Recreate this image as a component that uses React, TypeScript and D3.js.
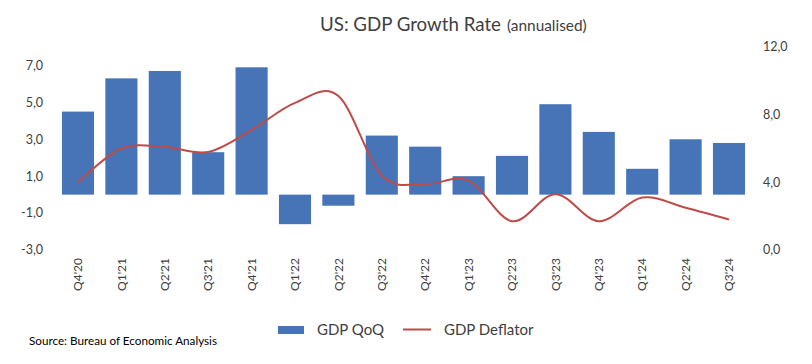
import React from 'react';
import * as d3 from 'd3';

const quarters = ["Q4'20", "Q1'21", "Q2'21", "Q3'21", "Q4'21", "Q1'22", "Q2'22", "Q3'22",
  "Q4'22", "Q1'23", "Q2'23", "Q3'23", "Q4'23", "Q1'24", "Q2'24", "Q3'24"];
const gdpQoQ = [4.5, 6.3, 6.7, 2.3, 6.9, -1.6, -0.6, 3.2, 2.6, 1.0, 2.1, 4.9, 3.4, 1.4, 3.0, 2.8];
const gdpDeflator = [4.0, 6.0, 6.1, 5.8, 7.1, 8.7, 9.1, 4.4, 3.9, 4.1, 1.7, 3.3, 1.7, 3.1, 2.5, 1.8];
const leftTicks = [-3, -1, 1, 3, 5, 7];
const rightTicks = [0, 4, 8, 12];

const W = 812;
const H = 364;
const FONT = 'Lato, "Open Sans", sans-serif';
const TEXT = '#404040';
const BAR = '#4674b7';
const LINE = '#be4b48';

const fmt = (v: number) => v.toFixed(1).replace('.', ',');

export default function App() {
  const x = d3.scaleBand<string>().domain(quarters).range([56.3, 750.7])
    .paddingInner(0.26).paddingOuter(0.13);
  const yL = d3.scaleLinear().domain([-3, 8]).range([250, 47]);
  const yR = d3.scaleLinear().domain([0, 12]).range([250, 47]);

  const line = d3.line<number>()
    .x((_, i) => x(quarters[i])! + x.bandwidth() / 2)
    .y(d => yR(d))
    .curve(d3.curveCardinal.tension(0));

  return (
    <svg width={W} height={H} style={{position: 'absolute', left: 0, top: 0, background: '#fff'}} fontFamily={FONT}>
      <text x={320} y={31} fontSize={18.7} fill={TEXT}>US: GDP Growth Rate</text>
      <text x={507} y={31} fontSize={15.4} fill={TEXT}>(annualised)</text>

      {/* bars */}
      {gdpQoQ.map((v, i) => (
        <rect key={quarters[i]} x={x(quarters[i])} width={x.bandwidth()}
          y={yL(Math.max(0, v))} height={Math.abs(yL(v) - yL(0))} fill={BAR} />
      ))}

      <path d={line(gdpDeflator) ?? ''} fill="none" stroke={LINE} strokeWidth={2} />

      {/* left axis */}
      {leftTicks.map(t => (
        <text key={t} x={43} y={yL(t)} dy="0.35em" textAnchor="end" fontSize={12.5} fill={TEXT}>{fmt(t)}</text>
      ))}
      {/* right axis */}
      {rightTicks.map(t => (
        <text key={t} x={763} y={yR(t)} dy="0.35em" textAnchor="start" fontSize={12.5} fill={TEXT}>{fmt(t)}</text>
      ))}
      {/* category labels */}
      {quarters.map(q => (
        <text key={q} transform={`translate(${x(q)! + x.bandwidth() / 2},258) rotate(-90)`}
          textAnchor="end" dy="0.35em" fontSize={12} fill={TEXT}>{q}</text>
      ))}

      {/* legend */}
      <rect x={278} y={326} width={26} height={8} fill={BAR} />
      <text x={317} y={335} fontSize={15} fill={TEXT}>GDP QoQ</text>
      <line x1={403} x2={431} y1={329.5} y2={329.5} stroke={LINE} strokeWidth={2} />
      <text x={444} y={335} fontSize={15} fill={TEXT}>GDP Deflator</text>

      <text x={29} y={345} fontSize={11.7} fill="#000">Source: Bureau of Economic Analysis</text>
    </svg>
  );
}
